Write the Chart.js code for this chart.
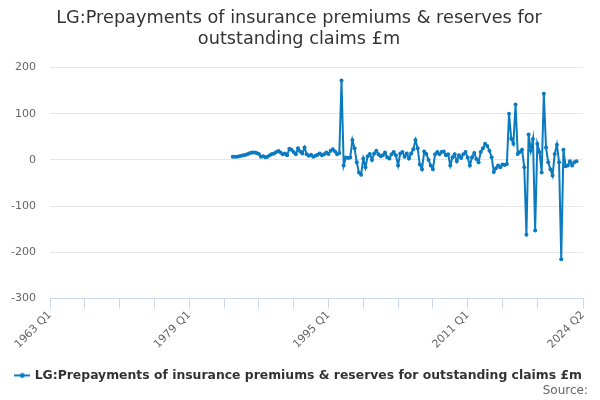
<!DOCTYPE html>
<html>
<head>
<meta charset="utf-8">
<script src="https://cdn.jsdelivr.net/npm/chart.js@4"></script>
<style>
  html, body { margin: 0; padding: 0; background: #fff; }
  canvas { display: block; }
</style>
</head>
<body>
<canvas id="c" width="600" height="400"></canvas>
<script>
// ---- Data ----
const titleLines = ['LG:Prepayments of insurance premiums & reserves for', 'outstanding claims £m'];
const seriesName = 'LG:Prepayments of insurance premiums & reserves for outstanding claims £m';
const sourceText = 'Source:';

// Quarterly categories 1963 Q1 .. 2024 Q2
const categories = [];
for (let y = 1963; y <= 2024; y++) {
  for (let q = 1; q <= 4; q++) {
    if (y === 2024 && q > 2) break;
    categories.push(y + ' Q' + q);
  }
}

// Tick marks and the labels that are shown
const tickMarkLabels = ['1963 Q1','1967 Q1','1971 Q1','1975 Q1','1979 Q1','1983 Q1','1987 Q1','1991 Q1',
  '1995 Q1','1999 Q1','2003 Q1','2007 Q1','2011 Q1','2015 Q1','2019 Q1','2024 Q2'];
const shownTickLabels = ['1963 Q1','1979 Q1','1995 Q1','2011 Q1','2024 Q2'];

// Series values (£m), starting 1984 Q1
const firstCategory = '1984 Q1';
const values = [
  7, 7, 7, 8, 9, 10, 11, 13, 15, 16, 16, 15, 13, 7, 8, 6, 7, 10, 13, 14,
  17, 19, 16, 12, 14, 10, 24, 22, 17, 12, 25, 18, 14, 27, 12, 9, 11, 7, 9, 11,
  14, 10, 12, 16, 13, 20, 23, 18, 12, 15, 172,
  -12, 5, 4, 5, 43, 25, -5, -27, -32, 3, -16, 8, 13, 0, 14, 20, 12, 8, 10, 16,
  6, 3, 12, 17, 10, -12, 14, 17, 7, 14, 3, 14, 23, 43, 25, -10, -20, 18, 13, 0,
  -12, -20, 12, 17, 12, 17, 18, 10, 12, -12, 6, 12, -3, 10, 4, 12, 17, 5, -12, 6,
  15, 2, -5, 17, 25, 35, 30, 20, 6, -26, -18, -12, -16, -10, -11, -9,
  100, 46, 35, 120, 13, 17, 22, -16, -162, 55, 20, 45, -153, 35, 17, -27, 143, 27,
  -5, -20, -34, 13, 33, -5, -215, 22, -14, -12, -3, -12, -5, -3
];

const yMin = -300, yMax = 200, yStep = 100;

// ---- Build ----
const startIdx = categories.indexOf(firstCategory);
const data = categories.map((c, i) => {
  const k = i - startIdx;
  return (k >= 0 && k < values.length) ? values[k] : null;
});
const tickIdx = tickMarkLabels.map(l => categories.indexOf(l));

const lineColor = '#0b7bc1';
const FONT = "'DejaVu Sans', sans-serif";

// legend symbol: line with a dot
const sym = document.createElement('canvas');
sym.width = 16; sym.height = 10;
(function () {
  const g = sym.getContext('2d');
  g.strokeStyle = lineColor; g.lineWidth = 2;
  g.beginPath(); g.moveTo(0, 5); g.lineTo(16, 5); g.stroke();
  g.fillStyle = lineColor;
  g.beginPath(); g.arc(8, 5, 2.5, 0, Math.PI * 2); g.fill();
})();

new Chart(document.getElementById('c'), {
  type: 'line',
  data: {
    labels: categories,
    datasets: [{
      label: seriesName,
      data: data,
      borderColor: lineColor,
      backgroundColor: lineColor,
      borderWidth: 2,
      pointRadius: 2,
      pointBorderWidth: 0,
      pointBackgroundColor: lineColor,
      pointStyle: 'circle',
      tension: 0,
      spanGaps: false
    }]
  },
  options: {
    responsive: false,
    animation: false,
    devicePixelRatio: 1,
    layout: { padding: { left: 10, right: 12, top: 0, bottom: 2 } },
    plugins: {
      title: {
        display: true,
        text: titleLines,
        color: '#333333',
        font: { family: FONT, size: 17.7, weight: 'normal', lineHeight: 1.2 },
        padding: { top: 8, bottom: 17 }
      },
      subtitle: {
        display: true,
        text: sourceText,
        position: 'bottom',
        align: 'end',
        color: '#666666',
        font: { family: FONT, size: 12, weight: 'normal' },
        padding: { top: -8, bottom: 0 }
      },
      legend: {
        position: 'bottom',
        labels: {
          usePointStyle: true,
          pointStyle: sym,
          color: '#333333',
          font: { family: FONT, size: 12.4, weight: 'bold' },
          padding: 2
        }
      },
      tooltip: { enabled: false }
    },
    scales: {
      x: {
        type: 'category',
        offset: false,
        grid: { drawOnChartArea: false, color: '#ccd6eb', tickLength: 10 },
        border: { color: '#ccd6eb' },
        ticks: {
          autoSkip: false,
          minRotation: 45,
          maxRotation: 45,
          color: '#666666',
          font: { family: FONT, size: 11 },
          padding: 0,
          callback: function (value) {
            const lab = categories[value];
            return shownTickLabels.includes(lab) ? lab : '';
          }
        },
        afterBuildTicks: function (scale) {
          scale.ticks = tickIdx.map(v => ({ value: v }));
        },
        afterFit: function (scale) { scale.height += 16; }
      },
      y: {
        min: yMin,
        max: yMax,
        ticks: {
          stepSize: yStep,
          color: '#666666',
          font: { family: FONT, size: 11 },
          padding: 14
        },
        grid: { color: '#e6e6e6', drawTicks: false },
        border: { display: false },
        afterFit: function (scale) { scale.width = 40; }
      },
      yRight: {
        position: 'right',
        display: true,
        grid: { display: false, drawTicks: false },
        border: { display: false },
        ticks: { display: false },
        afterFit: function (scale) { scale.width = 5; }
      }
    }
  }
});
</script>
</body>
</html>
